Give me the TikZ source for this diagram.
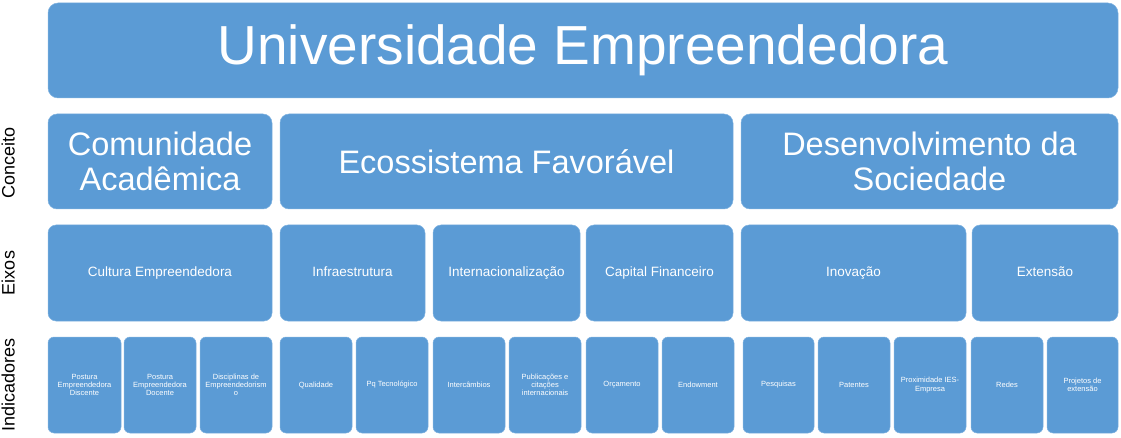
\documentclass[tikz,border=0pt]{standalone}
\usepackage{fontspec}
\setmainfont{Liberation Sans}
\definecolor{boxblue}{HTML}{5B9BD5}
\definecolor{boxedge}{HTML}{7FB2E0}
\tikzset{
  blk/.style={fill=boxblue, draw=boxedge, line width=0.5pt, text=white, align=center, inner sep=0pt},
  big/.style={blk, rounded corners=10pt, font=\fontsize{55}{60}\selectfont, text height=39.6pt, text depth=11.5pt},
  concept/.style={blk, rounded corners=9pt, font=\fontsize{32.5}{35}\selectfont},
  eixo/.style={blk, rounded corners=8pt, font=\fontsize{13.5}{16}\selectfont, text height=9.7pt, text depth=2.8pt},
  ind/.style={blk, rounded corners=6pt, font=\fontsize{7.5}{8.3}\selectfont},
  side/.style={rotate=90, font=\fontsize{18}{20}\selectfont, text=black, inner sep=0pt, text height=13pt, text depth=3.8pt}
}
% \bx{name}{x1}{y1}{x2}{y2}{style}{text}
\newcommand{\bx}[7]{%
  \node[#6, minimum width={(#4-#2)*1pt}, minimum height={(#5-#3)*1pt}] (#1)
    at ({(#2+#4)/2}, {(#3+#5)/2}) {#7};}
\begin{document}
\begin{tikzpicture}[x=1pt, y=-1pt]
\useasboundingbox (0,0) rectangle (1121,438);
% title
\bx{title}{48}{3}{1118}{98}{big}{Universidade Empreendedora}
% concept row
\bx{ca}{48}{114}{272}{209}{concept}{Comunidade\\Acadêmica}
\bx{ef}{280}{114}{733}{209}{concept}{Ecossistema Favorável}
\bx{ds}{741}{114}{1118}{209}{concept}{Desenvolvimento da\\Sociedade}
% eixos row
\bx{ce}{48}{225}{272}{321}{eixo}{Cultura Empreendedora}
\bx{inf}{280}{225}{425}{321}{eixo}{Infraestrutura}
\bx{int}{433}{225}{580}{321}{eixo}{Internacionalização}
\bx{cf}{586}{225}{733}{321}{eixo}{Capital Financeiro}
\bx{inov}{741}{225}{966}{321}{eixo}{Inovação}
\bx{ext}{972}{225}{1118}{321}{eixo}{Extensão}
% indicadores row
\bx{i1}{48}{337}{121}{433}{ind}{Postura\\Empreendedora\\Discente}
\bx{i2}{124}{337}{196}{433}{ind}{Postura\\Empreendedora\\Docente}
\bx{i3}{200}{337}{272}{433}{ind}{Disciplinas de\\Empreendedorism\\o}
\bx{i4}{280}{337}{352}{433}{ind}{Qualidade}
\bx{i5}{356}{337}{428}{433}{ind}{Pq Tecnológico}
\bx{i6}{433}{337}{505}{433}{ind}{Intercâmbios}
\bx{i7}{509}{337}{581}{433}{ind}{Publicações e\\citações\\internacionais}
\bx{i8}{586}{337}{658}{433}{ind}{Orçamento}
\bx{i9}{662}{337}{734}{433}{ind}{Endowment}
\bx{i10}{743}{337}{814}{433}{ind}{Pesquisas}
\bx{i11}{818}{337}{890}{433}{ind}{Patentes}
\bx{i12}{894}{337}{966}{433}{ind}{Proximidade IES-\\Empresa}
\bx{i13}{971}{337}{1043}{433}{ind}{Redes}
\bx{i14}{1047}{337}{1118}{433}{ind}{Projetos de\\extensão}
% side labels
\node[side] (lc) at (10,163) {Conceito};
\node[side] (le) at (10,273) {Eixos};
\node[side] (li) at (10,385) {Indicadores};
\end{tikzpicture}
\end{document}
